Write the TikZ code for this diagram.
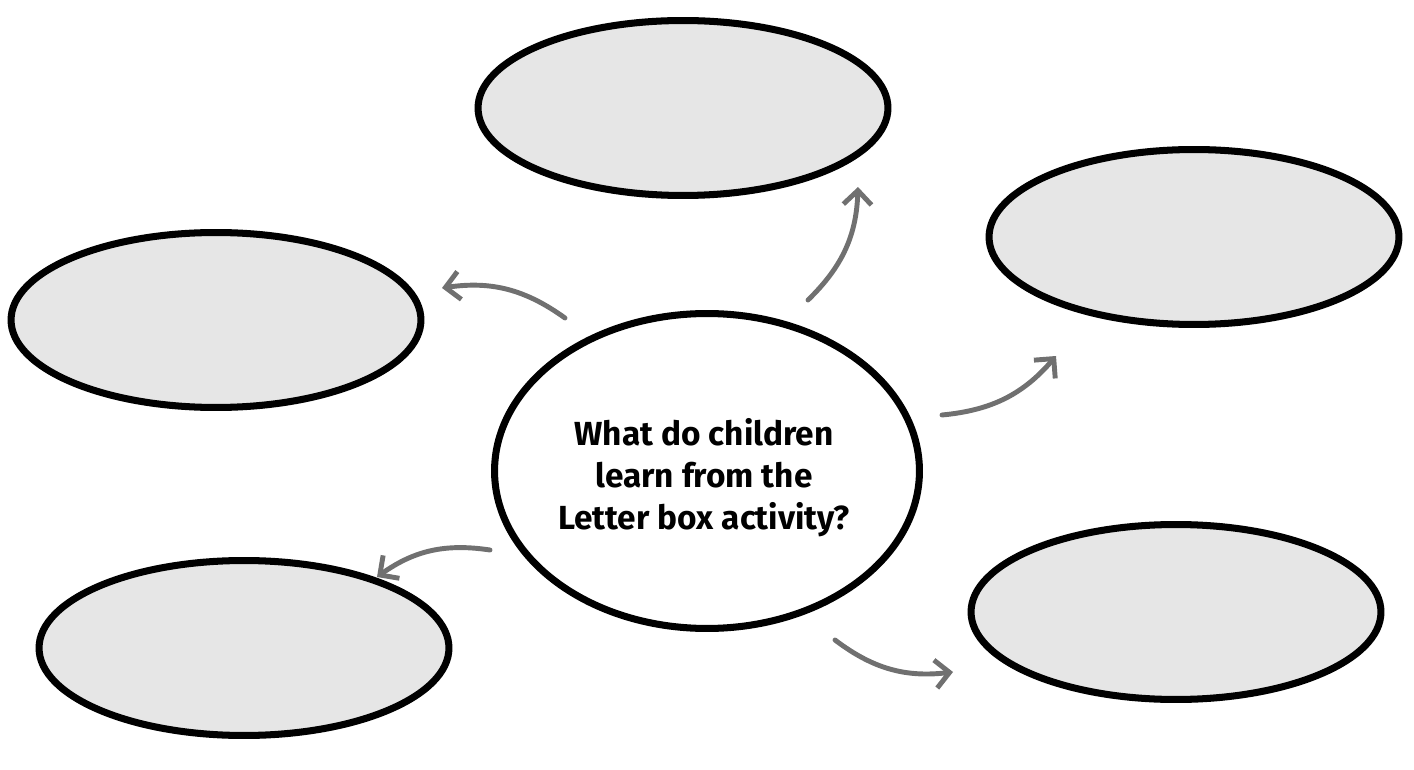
\documentclass[tikz,border=0pt]{standalone}
\usepackage{fontspec}
\setmainfont{Fira Sans}
\usetikzlibrary{shapes.geometric,arrows.meta}
\definecolor{bubblegray}{HTML}{E6E6E6}
\definecolor{arrowgray}{HTML}{707070}
\tikzset{
  bubble/.style={ellipse, draw=black, line width=4pt, fill=bubblegray, inner sep=0pt, minimum width=8.2cm, minimum height=3.5cm},
  centrebubble/.style={ellipse, draw=black, line width=4pt, fill=white, inner sep=0pt, minimum width=8.5cm, minimum height=6.3cm},
  questiontext/.style={align=center, font=\bfseries\fontsize{19}{24}\selectfont},
  linkarrow/.style={draw=arrowgray, line width=2.8pt, line cap=round, -{Straight Barb[length=8pt,width=16pt]}, bend right=22}
}
\begin{document}
\begin{tikzpicture}[x=0.02cm,y=-0.02cm]
  \useasboundingbox (0,0) rectangle (1414,770);
  % bubbles
  \node[bubble] (top) at (683,108) {};
  \node[bubble] (topright) at (1194,237) {};
  \node[bubble] (left) at (216,320) {};
  \node[bubble] (bottomleft) at (244,648) {};
  \node[bubble] (bottomright) at (1176,612) {};
  \node[centrebubble] (question) at (707,471) {};
  \node[questiontext] (qtext) at (704,478) {What do children\\learn from the\\Letter box activity?};
  % arrow ends
  \coordinate (a1) at (565,318); \coordinate (b1) at (442,288);
  \coordinate (a2) at (808,300); \coordinate (b2) at (858,187);
  \coordinate (a3) at (942,415); \coordinate (b3) at (1056,356);
  \coordinate (a4) at (490,550); \coordinate (b4) at (377,577);
  \coordinate (a5) at (835,640); \coordinate (b5) at (953,672);
  \draw[linkarrow] (a1) to (b1);
  \draw[linkarrow] (a2) to (b2);
  \draw[linkarrow] (a3) to (b3);
  \draw[linkarrow] (a4) to (b4);
  \draw[linkarrow] (a5) to (b5);
\end{tikzpicture}
\end{document}
